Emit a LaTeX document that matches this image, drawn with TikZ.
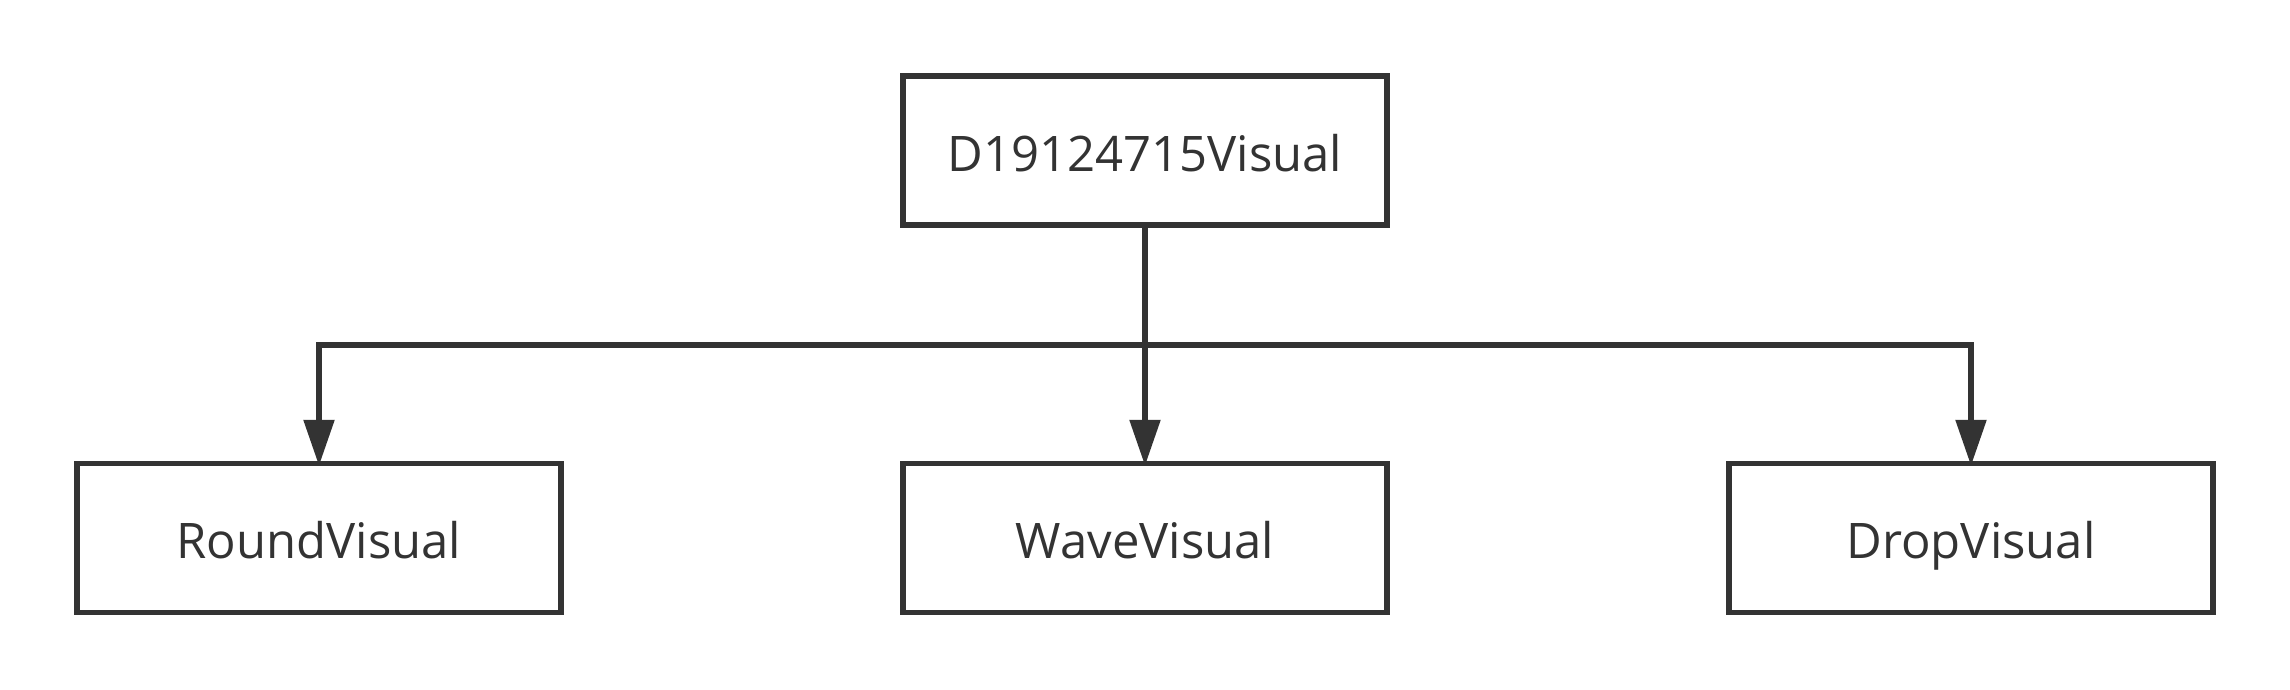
\documentclass[tikz,border=0pt]{standalone}
\usepackage{fontspec}
\setmainfont{Open Sans}
\usetikzlibrary{arrows.meta}
\definecolor{ink}{HTML}{333333}
\tikzset{
  box/.style={draw=ink, line width=5.5pt, fill=white, minimum width=484pt, minimum height=149pt, inner sep=0pt, text height=41pt, text depth=0pt, text=ink, font=\fontsize{49}{58}\selectfont},
  link/.style={draw=ink, line width=5.5pt, shorten >=-5pt, -{Triangle[length=46pt,width=30pt]}}
}
\begin{document}
\begin{tikzpicture}[x=1pt,y=-1pt]
\useasboundingbox[fill=white] (0,0) rectangle (2290,689);
\node[box] (top) at (1145,150.5) {D19124715Visual};
\node[box] (round) at (319,538) {RoundVisual};
\node[box] (wave) at (1145,538) {WaveVisual};
\node[box] (drop) at (1971,538) {DropVisual};
\coordinate (hl) at (319,345);
\coordinate (hr) at (1971,345);
\coordinate (hm) at (1145,345);
\draw[link] (top.south) -- (wave.north);
\draw[link] (hm) -- (hl) -- (round.north);
\draw[link] (hm) -- (hr) -- (drop.north);
\end{tikzpicture}
\end{document}
